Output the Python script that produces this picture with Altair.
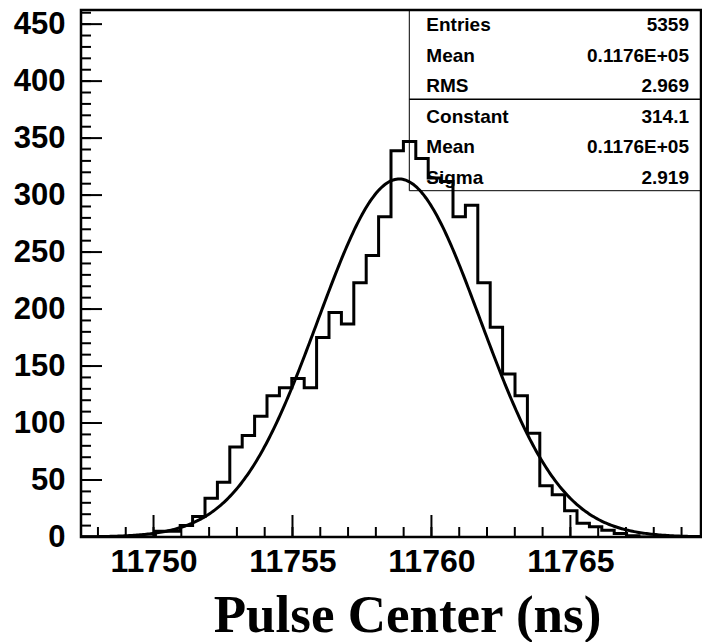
import numpy as np
import pandas as pd
import altair as alt

# ---- data ----
x_min, x_max = 11747.39, 11769.70
y_max = 462.4
n_bins = 50
counts = [0, 0, 0, 0, 0, 0,
          5, 5, 10, 18, 34, 48, 79, 89, 106, 124, 131, 139, 131, 175,
          197, 187, 223, 247, 281, 339, 347, 332, 315, 312, 281, 291, 223, 184,
          143, 124, 91, 45, 37, 23, 12, 9, 6, 3, 1,
          0, 0, 0, 0, 0]

fit_constant = 314.1
fit_mean = 11758.84
fit_sigma = 2.919

x_label_values = [11750, 11755, 11760, 11765]
x_minor_values = list(range(11748, 11770))
y_label_values = [0, 50, 100, 150, 200, 250, 300, 350, 400, 450]
y_minor_values = list(range(0, 461, 10))

stat_names = ["Entries", "Mean", "RMS", "Constant", "Mean", "Sigma"]
stat_values = ["5359", "0.1176E+05", "2.969", "314.1", "0.1176E+05", "2.919"]

# ---- tables ----
bin_width = (x_max - x_min) / n_bins
edges = [x_min + i * bin_width for i in range(n_bins + 1)]
hist_df = pd.DataFrame({"x": edges, "y": counts + [counts[-1]]})

xs = np.linspace(x_min, x_max, 400)
fit_df = pd.DataFrame({"x": xs,
                       "y": fit_constant * np.exp(-0.5 * ((xs - fit_mean) / fit_sigma) ** 2)})

W, H = 620, 527
FONT = "Liberation Sans"

xscale = alt.Scale(domain=[x_min, x_max], nice=False, zero=False)
yscale = alt.Scale(domain=[0, y_max], nice=False, zero=False)

x_axis = alt.Axis(values=x_label_values, format="d", ticks=False, tickSize=0,
                  domain=False, grid=False, labelFlush=False, labelOverlap=False,
                  labelFont=FONT, labelFontWeight="bold", labelFontSize=32,
                  labelColor="black", labelPadding=9,
                  title="Pulse Center (ns)", titleFont="Liberation Serif",
                  titleFontWeight="bold", titleFontSize=53, titleColor="black",
                  titlePadding=12, titleX=W / 2 + 16)
y_axis = alt.Axis(values=y_label_values, format="d", ticks=False, tickSize=0,
                  domain=False, grid=False, labelFlush=False, labelOverlap=False,
                  labelFont=FONT, labelFontWeight="bold", labelFontSize=31,
                  labelColor="black", labelPadding=16, title=None)

hist = alt.Chart(hist_df).mark_line(interpolate="step-after", color="black",
                                    strokeWidth=3, clip=True).encode(
    x=alt.X("x:Q", scale=xscale, axis=x_axis),
    y=alt.Y("y:Q", scale=yscale, axis=y_axis),
)

fit = alt.Chart(fit_df).mark_line(color="black", strokeWidth=3, clip=True).encode(
    x=alt.X("x:Q", scale=xscale, axis=x_axis),
    y=alt.Y("y:Q", scale=yscale, axis=y_axis),
)

def xticks(vals, length):
    return alt.Chart(pd.DataFrame({"x": vals})).mark_rule(color="black", strokeWidth=2).encode(
        x=alt.X("x:Q", scale=xscale, axis=x_axis),
        y=alt.value(H), y2=alt.value(H - length))

def yticks(vals, length):
    return alt.Chart(pd.DataFrame({"y": vals})).mark_rule(color="black", strokeWidth=2).encode(
        y=alt.Y("y:Q", scale=yscale, axis=y_axis),
        x=alt.value(0), x2=alt.value(length))

box_left, box_bottom, box_mid = 328.3, 180.7, 89.3
stats_box = alt.Chart(pd.DataFrame({"a": [0]})).mark_rect(
    fill="white", fillOpacity=0, stroke="black", strokeWidth=1).encode(
    x=alt.value(box_left), x2=alt.value(W), y=alt.value(0), y2=alt.value(box_bottom))
stats_div = alt.Chart(pd.DataFrame({"a": [0]})).mark_rule(color="black", strokeWidth=1.5).encode(
    x=alt.value(box_left), x2=alt.value(W), y=alt.value(box_mid))

stat_layers = []
for i, (nm, val) in enumerate(zip(stat_names, stat_values)):
    row_y = 15 + i * 30.5
    d = pd.DataFrame({"name": [nm], "value": [val]})
    stat_layers.append(alt.Chart(d).mark_text(align="left", baseline="middle", font=FONT,
                                              fontWeight="bold", fontSize=19, color="black").encode(
        text="name:N", x=alt.value(box_left + 17), y=alt.value(row_y)))
    stat_layers.append(alt.Chart(d).mark_text(align="right", baseline="middle", font=FONT,
                                              fontWeight="bold", fontSize=19, color="black").encode(
        text="value:N", x=alt.value(W - 12), y=alt.value(row_y)))

chart = alt.layer(
    hist, fit,
    xticks(x_minor_values, 10), xticks(x_label_values, 22),
    yticks(y_minor_values, 10), yticks(y_label_values, 21),
    stats_box, stats_div, *stat_layers,
).properties(
    width=W, height=H,
    autosize=alt.AutoSizeParams(type="none"),
    padding={"left": 73, "top": 2, "right": 1, "bottom": 105},
    background="white",
).configure_view(stroke="black", strokeWidth=2.5)

chart.save("out.html", embed_options={"renderer": "svg", "actions": False})
